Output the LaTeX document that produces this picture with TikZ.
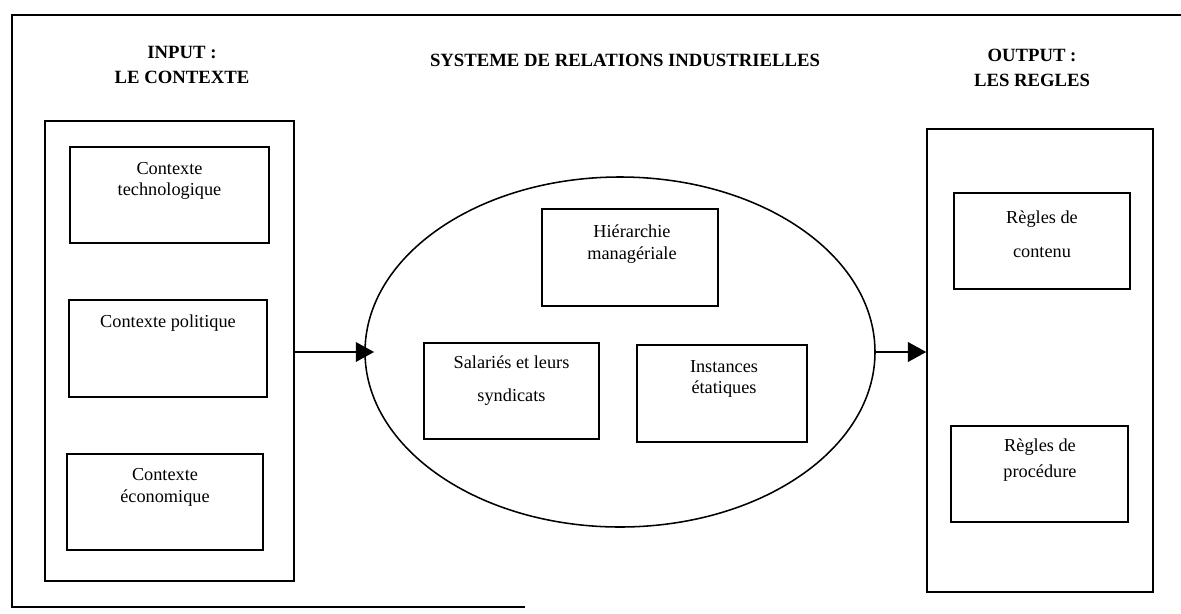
\documentclass[tikz,border=0pt]{standalone}
\usepackage{fontspec}
\setmainfont{Liberation Serif}
\usetikzlibrary{shapes.geometric,arrows.meta}

\tikzset{
	boite/.style 2 args={draw, line width=1.1pt, inner sep=0pt, minimum width=#1*0.025cm, minimum height=#2*0.025cm},
	txt/.style={align=center, font=\fontsize{13}{15.5}\selectfont},
	titre/.style={align=center, font=\bfseries\fontsize{13.3}{18}\selectfont},
	fleche/.style={-{Triangle[length=13pt,width=14pt]}, line width=1pt},
}

\begin{document}
\begin{tikzpicture}[x=0.025cm, y=-0.025cm]
	\useasboundingbox (0,0) rectangle (1181,613);
	% cadre ouvert a droite
	\draw[line width=1.1pt] (1181,15) -- (12,15) -- (12,607) -- (525,607);
	% titres
	\node[titre] (tin) at (182,65) {INPUT :\\LE CONTEXTE};
	\node[titre] (tsys) at (625,60) {SYSTEME DE RELATIONS INDUSTRIELLES};
	\node[titre] (tout) at (1032,68) {OUTPUT :\\LES REGLES};
	% input
	\node[boite={249}{460}] (incol) at (169.5,351) {};
	\node[boite={199}{96}] (tech) at (169.5,195) {};
	\node[txt] (techtxt) at (169.5,181) {Contexte\\technologique};
	\node[boite={198}{97}] (poli) at (168,348.5) {};
	\node[txt] (politxt) at (168,323) {Contexte politique};
	\node[boite={196}{96}] (eco) at (165,502) {};
	\node[txt] (ecotxt) at (165,487) {Contexte\\économique};
	% systeme
	\node[draw, ellipse, line width=1.1pt, inner sep=0pt, minimum width=510*0.025cm, minimum height=350*0.025cm] (sys) at (620,352) {};
	\node[boite={176}{97}] (hier) at (630,257.5) {};
	\node[txt] (hiertxt) at (632,244) {Hiérarchie\\managériale};
	\node[boite={175}{96}] (sala) at (511.5,391) {};
	\node[txt] (salatxt) at (511.5,381) {Salariés et leurs\\[8pt]syndicats};
	\node[boite={170}{97}] (inst) at (722,393.5) {};
	\node[txt] (insttxt) at (724,379) {Instances\\étatiques};
	% output
	\node[boite={226}{463}] (outcol) at (1040,360.5) {};
	\node[boite={176}{96}] (cont) at (1042,241) {};
	\node[txt] (conttxt) at (1042,234) {Règles de\\[9pt]contenu};
	\node[boite={177}{96}] (proc) at (1039.5,474) {};
	\node[txt] (proctxt) at (1040,460) {Règles de\\[3pt]procédure};
	% fleches
	\draw[fleche, shorten >=-7pt] (sys.west -| incol.east) -- (sys.west);
	\draw[fleche] (sys.east) -- (sys.east -| outcol.west);
\end{tikzpicture}
\end{document}
